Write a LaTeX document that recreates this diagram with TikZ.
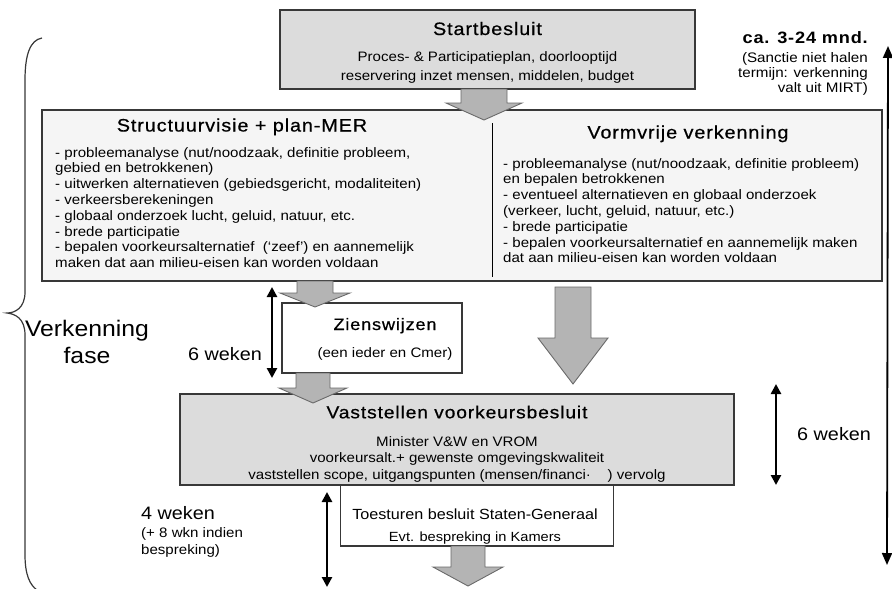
\documentclass[tikz,border=0pt]{standalone}
\usepackage{fontspec}
\setmainfont{Liberation Sans}[FakeStretch=1.1]
\newfontfamily\titlefont{Liberation Sans}[FakeStretch=1.1,LetterSpace=5,FakeBold=0.6]
\newfontfamily\boldtitlefont{Liberation Sans Bold}[FakeStretch=1.1,LetterSpace=5]
\usetikzlibrary{arrows.meta}
\definecolor{boxgray}{HTML}{DCDCDC}
\definecolor{lightbox}{HTML}{F5F5F5}
\definecolor{arrowgray}{HTML}{B4B4B4}
\definecolor{edgec}{HTML}{383838}
\definecolor{arredge}{HTML}{6A6A6A}
\newcommand\fsz[1]{\fontsize{#1}{#1}\selectfont}
\newcommand\blockarrow[6]{\draw[blockarr] ({#1-#5},#2) -- ({#1+#5},#2) -- ({#1+#5},#3) -- ({#1+#6},#3) -- (#1,#4) -- ({#1-#6},#3) -- ({#1-#5},#3) -- cycle;}
\begin{document}
\begin{tikzpicture}[x=1pt,y=-1pt,
  panel/.style={draw=edgec, line width=1.3pt, inner sep=0pt},
  blockarr/.style={fill=arrowgray, draw=arredge, line width=0.9pt},
  dur/.style={{Triangle[length=10pt,width=10pt]}-{Triangle[length=10pt,width=10pt]}, line width=2.8pt},
  longdur/.style={{Triangle[length=12pt,width=10pt]}-{Triangle[length=12pt,width=10pt]}, line width=1.8pt},
  txt/.style={inner sep=0pt, anchor=base},
  body/.style={inner sep=0pt, anchor=north west, align=left, font=\fontsize{13.7}{15.8}\selectfont},
  ttl/.style={inner sep=0pt, anchor=base, font=\titlefont\fsz{18}},
  bodyc/.style={inner sep=0pt, anchor=base, font=\fsz{13.7}},
  brace/.style={draw=edgec, line width=1.2pt}
]
\useasboundingbox (0,0) rectangle (892,589);

% boxes
\node[panel, fill=boxgray, minimum width=415pt, minimum height=79pt] (start) at (487.5,49.5) {};
\node[panel, fill=lightbox, minimum width=840pt, minimum height=171pt] (phase) at (462,195.5) {};
\node[panel, fill=white, minimum width=180pt, minimum height=70pt] (zien) at (372,338) {};
\node[panel, fill=boxgray, minimum width=554pt, minimum height=91pt] (vast) at (457,439.5) {};
\node[panel, fill=white, minimum width=273pt, minimum height=61pt] (toe) at (477,515.5) {};

% divider
\coordinate (divtop) at (492,123);
\coordinate (divbot) at (492,277);
\draw[line width=1pt] (divtop) -- (divbot);

% Startbesluit
\node[ttl] (startt) at (487.5,35) {Startbesluit};
\node[bodyc] (startl1) at (487.5,61.5) {Proces- \& Participatieplan, doorlooptijd};
\node[bodyc] (startl2) at (487.5,80) {reservering inzet mensen, middelen, budget};

% Structuurvisie
\node[ttl] (svt) at (242,131.5) {Structuurvisie + plan-MER};
\node[body] (svb) at (55,147) {- probleemanalyse (nut/noodzaak, definitie probleem,\\
gebied en betrokkenen)\\
- uitwerken alternatieven (gebiedsgericht, modaliteiten)\\
- verkeersberekeningen\\
- globaal onderzoek lucht, geluid, natuur, etc.\\
- brede participatie\\
- bepalen voorkeursalternatief\ \ (‘zeef’) en aannemelijk\\
maken dat aan milieu-eisen kan worden voldaan};

% Vormvrije
\node[ttl] (vvt) at (688,138.5) {Vormvrije verkenning};
\node[body] (vvb) at (503,158) {- probleemanalyse (nut/noodzaak, definitie probleem)\\
en bepalen betrokkenen\\
- eventueel alternatieven en globaal onderzoek\\
(verkeer, lucht, geluid, natuur, etc.)\\
- brede participatie\\
- bepalen voorkeursalternatief en aannemelijk maken\\
dat aan milieu-eisen kan worden voldaan};

% Zienswijzen
\node[txt, font=\titlefont\fsz{16.5}] (zient) at (385,330) {Zienswijzen};
\node[bodyc] (zienl) at (385,357) {(een ieder en Cmer)};

% Vaststellen
\node[ttl, font=\titlefont\fsz{17.5}] (vastt) at (457,418.3) {Vaststellen voorkeursbesluit};
\node[bodyc] (vastl1) at (457,446) {Minister V\&W en VROM};
\node[bodyc] (vastl2) at (457,462) {voorkeursalt.+ gewenste omgevingskwaliteit};
\node[bodyc] (vastl3) at (457,479) {vaststellen scope, uitgangspunten (mensen/financi·\ \ \ \ ) vervolg};

% Toesturen
\node[txt, font=\fsz{14.7}] (toet) at (475,519.3) {Toesturen besluit Staten-Generaal};
\node[txt, font=\fsz{13.3}] (toel) at (475,541.8) {Evt. bespreking in Kamers};

% block arrows
\blockarrow{484}{89}{103}{120}{23}{38}
\blockarrow{315}{281}{293}{307}{18}{35}
\blockarrow{313}{373}{388}{403}{17}{34}
\blockarrow{573}{287}{338}{384}{18}{35}
\blockarrow{468}{546}{567}{586}{17}{35}

% duration arrows
\coordinate (d1a) at (272,287); \coordinate (d1b) at (272,378);
\draw[dur] (d1a) -- (d1b);
\node[txt, anchor=base east, font=\fsz{18}] (d1l) at (262,360.5) {6 weken};

\coordinate (d2a) at (776,384); \coordinate (d2b) at (776,485);
\draw[dur] (d2a) -- (d2b);
\node[txt, anchor=base west, font=\fsz{18}] (d2l) at (797,440.5) {6 weken};

\coordinate (d3a) at (327,492); \coordinate (d3b) at (327,587);
\draw[dur] (d3a) -- (d3b);
\node[txt, anchor=base west, font=\fsz{18}] (d3l) at (141,519.5) {4 weken};
\node[txt, anchor=base west, font=\fsz{13.7}] (d3l2) at (141,537) {(+ 8 wkn indien};
\node[txt, anchor=base west, font=\fsz{13.7}] (d3l3) at (141,554) {bespreking)};

\coordinate (d4a) at (888,46); \coordinate (d4b) at (887,565);
\draw[longdur] (d4a) -- (d4b);
\node[txt, anchor=base east, font=\boldtitlefont\fsz{16.5}] (durt) at (868,43) {ca. 3-24 mnd.};
\node[txt, anchor=base east, font=\fsz{13.8}] (durl1) at (868,62) {(Sanctie niet halen};
\node[txt, anchor=base east, font=\fsz{13.8}] (durl2) at (868,77) {termijn: verkenning};
\node[txt, anchor=base east, font=\fsz{13.8}] (durl3) at (868,92) {valt uit MIRT)};

% brace
\draw[brace] (42,38) .. controls (30,40) and (25,55) .. (25,80)
  -- (25,292) .. controls (25,308) and (15,313) .. (7,313)
  .. controls (15,314) and (25,318) .. (25,335)
  -- (25,555) .. controls (25,575) and (30,585) .. (37,590);
\node[txt, font=\fsz{22.5}] (phaset) at (87,336) {Verkenning};
\node[txt, font=\fsz{22.5}] (phasef) at (87,363) {fase};
\end{tikzpicture}
\end{document}
